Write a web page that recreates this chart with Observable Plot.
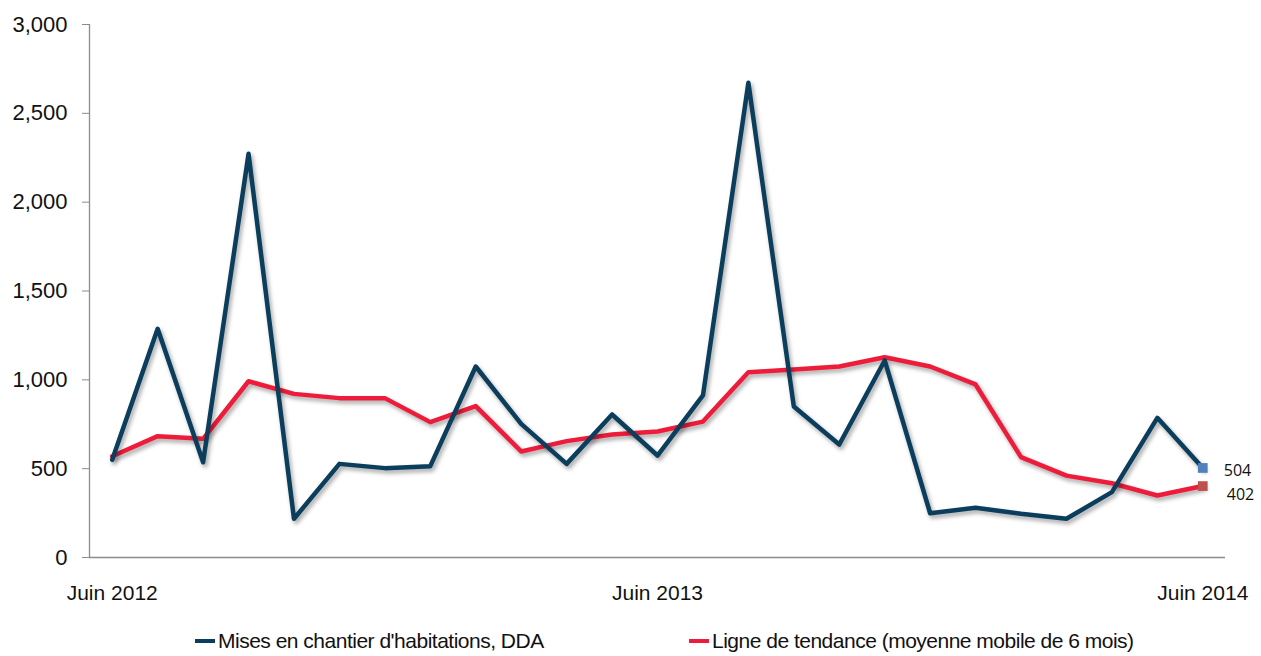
<!DOCTYPE html>
<html>
<head>
<meta charset="utf-8">
<script src="https://cdn.jsdelivr.net/npm/d3@7"></script>
<script src="https://cdn.jsdelivr.net/npm/@observablehq/plot@0.6"></script>
<style>
  html, body { margin: 0; padding: 0; background: #fff; }
  #wrap { position: relative; width: 1261px; height: 656px; font-family: "Liberation Sans", Arial, sans-serif; }
  #chart svg g[aria-label="line"] path { filter: drop-shadow(2px 3px 2px rgba(0,0,0,0.35)); }
  .legend { position: absolute; top: 628px; left: 0; width: 1261px; height: 26px; font-size: 21px; color: #111; letter-spacing: -0.5px; }
  .legend .item { position: absolute; top: 0; display: flex; align-items: center; height: 26px; white-space: nowrap; }
  .legend .sw { display: inline-block; width: 20px; height: 4px; margin-right: 3px; }
</style>
</head>
<body>
<div id="wrap">
  <div id="chart"></div>
  <div class="legend" id="legend"></div>
</div>
<script>
// Month index 0 = Juin 2012 ... 24 = Juin 2014
const months = d3.range(25);
const seriesNames = ["Mises en chantier d'habitations, DDA", "Ligne de tendance (moyenne mobile de 6 mois)"];
const starts = [550, 1287, 536, 2272, 218, 527, 503, 514, 1075, 752, 527, 805, 574, 912, 2672, 850, 636, 1109, 249, 280, 246, 218, 368, 786, 504];
const trend  = [570, 683, 668, 992, 921, 897, 897, 762, 852, 597, 655, 692, 709, 765, 1043, 1058, 1075, 1127, 1075, 974, 565, 461, 418, 349, 402];
const xTickIdx = [0, 12, 24];
const xTickLabels = ["Juin 2012", "Juin 2013", "Juin 2014"];
const yTicks = [0, 500, 1000, 1500, 2000, 2500, 3000];
const colors = ["#0b3d5c", "#ee1c3a"];
const endColors = ["#4f81bd", "#c0504d"];

const dataStarts = months.map((m, i) => ({m, v: starts[i]}));
const dataTrend = months.map((m, i) => ({m, v: trend[i]}));
const last = months.length - 1;
const endStarts = [{m: last, v: starts[last]}];
const endTrend = [{m: last, v: trend[last]}];

const chart = Plot.plot({
  width: 1261,
  height: 620,
  marginLeft: 89,
  marginRight: 36,
  marginTop: 24,
  marginBottom: 63,
  style: {fontFamily: "'Liberation Sans', Arial, sans-serif", background: "#fff", overflow: "visible"},
  x: {domain: [-0.5, 24.5], axis: null, label: null},
  y: {domain: [0, 3000], axis: null, label: null},
  marks: [
    Plot.ruleX([-0.5], {stroke: "#8c8c8c", strokeWidth: 1.3}),
    Plot.ruleY([0], {stroke: "#8c8c8c", strokeWidth: 1.3}),
    Plot.axisY({ticks: yTicks, tickSize: 7, tickPadding: 15, fontSize: 22, stroke: "#8c8c8c", color: "#111", label: null,
      tickFormat: d3.format(","), style: {letterSpacing: "-0.6px"}}),
    Plot.axisX({ticks: xTickIdx, tickSize: 0, tickPadding: 28, fontSize: 21, color: "#111", label: null,
      tickFormat: d => xTickLabels[xTickIdx.indexOf(d)], style: {letterSpacing: "-1.2px"}}),
    Plot.line(dataTrend, {x: "m", y: "v", stroke: colors[1], strokeWidth: 4.5, strokeLinejoin: "round"}),
    Plot.line(dataStarts, {x: "m", y: "v", stroke: colors[0], strokeWidth: 4.5, strokeLinejoin: "round"}),
    Plot.dot(endStarts, {x: "m", y: "v", symbol: "square", r: 5.5, fill: endColors[0], stroke: "none"}),
    Plot.dot(endTrend, {x: "m", y: "v", symbol: "square", r: 5.5, fill: endColors[1], stroke: "none"}),
    Plot.text(endStarts, {x: "m", y: "v", text: d => String(d.v), dx: 21, dy: 3, textAnchor: "start",
      fontSize: 16, fill: "#111", fontFamily: "'Open Sans', Lato, sans-serif"}),
    Plot.text(endTrend, {x: "m", y: "v", text: d => String(d.v), dx: 24, dy: 9, textAnchor: "start",
      fontSize: 16, fill: "#111", fontFamily: "'Open Sans', Lato, sans-serif"})
  ]
});
document.getElementById("chart").appendChild(chart);

const legend = document.getElementById("legend");
const items = [
  {left: 195, name: seriesNames[0], color: colors[0]},
  {left: 689, name: seriesNames[1], color: colors[1]}
];
items.forEach(it => {
  const d = document.createElement("div");
  d.className = "item";
  d.style.left = it.left + "px";
  const sw = document.createElement("span");
  sw.className = "sw";
  sw.style.background = it.color;
  const t = document.createElement("span");
  t.textContent = it.name;
  d.appendChild(sw); d.appendChild(t);
  legend.appendChild(d);
});
</script>
</body>
</html>
